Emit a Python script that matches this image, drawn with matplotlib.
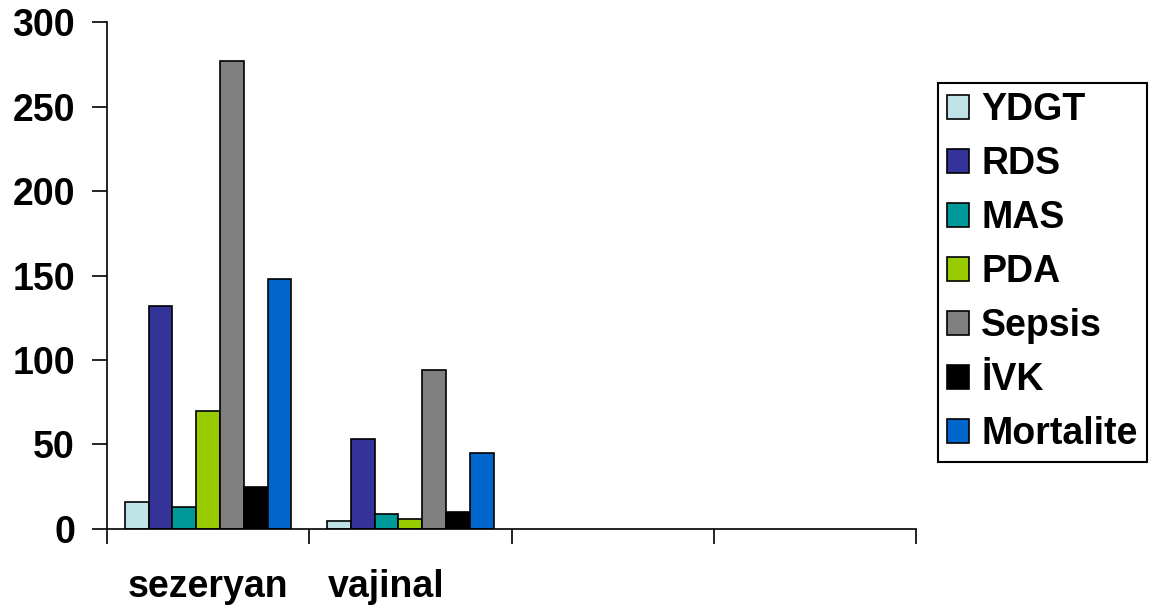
import numpy as np
import matplotlib.pyplot as plt
from matplotlib.transforms import ScaledTranslation

plt.rcParams['font.family'] = ['Liberation Sans', 'DejaVu Sans']
plt.rcParams['font.weight'] = 'bold'

# dogum sekline gore komplikasyonlar
groups = ["sezeryan", "vajinal", "", ""]
series = ["YDGT", "RDS", "MAS", "PDA", "Sepsis", "İVK", "Mortalite"]
ydgt = [16, 5]
rds = [132, 53]
mas = [13, 9]
pda = [70, 6]
sepsis = [277, 94]
ivk = [25, 10]
mortalite = [148, 45]
values = [ydgt, rds, mas, pda, sepsis, ivk, mortalite]
colors = ["#BFE3E6", "#333399", "#009999", "#99CC00", "#808080", "#000000", "#0066CC"]

fig = plt.figure(figsize=(11.53, 6.10), dpi=100)
ax = fig.add_axes([0.0928, 0.1328, 0.7017, 0.8311])

n = len(series)
w = 1 / (n + 1.5)
x = np.arange(len(ydgt))
for i, (name, vals, c) in enumerate(zip(series, values, colors)):
    pos = x + 0.5 - n * w / 2 + (i + 0.5) * w
    ax.bar(pos, vals, width=w, color=c, edgecolor="black", linewidth=1.2, label=name)

fs = 27
ax.set_xlim(0, len(groups))
ax.set_ylim(0, 300)
ax.set_yticks(range(0, 301, 50))
ax.set_xticks(range(len(groups) + 1))
ax.set_xticklabels([])
ax.set_xticks(np.arange(len(groups)) + 0.5, minor=True)
ax.set_xticklabels(groups, minor=True)
ax.tick_params(axis="x", which="minor", length=0, pad=29)
ax.tick_params(axis="both", which="major", length=11, width=1.2, direction="out")
ax.tick_params(axis="both", which="both", labelsize=fs)
ax.tick_params(axis="y", pad=12)
for lab in ax.get_yticklabels() + ax.get_xticklabels(minor=True):
    lab.set_fontweight("bold")
# vajinal etiketi biraz sola kaymis
lab = ax.get_xticklabels(minor=True)[1]
lab.set_transform(lab.get_transform() + ScaledTranslation(-0.24, 0, fig.dpi_scale_trans))

for s in ["top", "right"]:
    ax.spines[s].set_visible(False)
for s in ["left", "bottom"]:
    ax.spines[s].set_linewidth(1.2)

leg = ax.legend(loc="upper left", bbox_to_anchor=(938 / 1153, 1 - 83 / 610),
                bbox_transform=fig.transFigure, borderaxespad=0, fancybox=False,
                edgecolor="black", framealpha=1, prop={"size": fs, "weight": "bold"},
                handlelength=0.58, handleheight=0.58, handletextpad=0.32,
                labelspacing=0.48, borderpad=0.25)
leg.get_frame().set_linewidth(1.5)

fig.savefig("out.png", dpi=100)
